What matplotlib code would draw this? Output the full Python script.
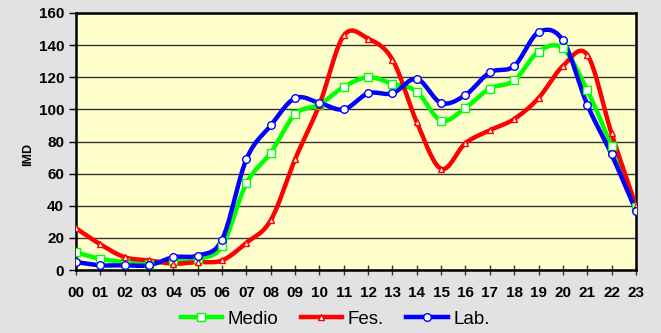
import numpy as np
import matplotlib
matplotlib.use("Agg")
import matplotlib.pyplot as plt
from matplotlib.lines import Line2D

hours = ["00", "01", "02", "03", "04", "05", "06", "07", "08", "09", "10", "11",
         "12", "13", "14", "15", "16", "17", "18", "19", "20", "21", "22", "23"]
medio = [11, 7, 5, 4, 6, 7, 15, 54, 73, 97, 103, 114, 120, 116, 111, 93, 101,
         113, 118, 136, 138, 112, 77, 39]
fes = [26, 16, 8, 6, 4, 5, 6, 17, 31, 69, 103, 146, 144, 131, 92, 63, 79, 87,
       94, 107, 127, 134, 85, 40]
lab = [5, 3, 3, 3, 8, 9, 19, 69, 90, 107, 104, 100, 110, 110, 119, 104, 109,
       123, 127, 148, 143, 103, 72, 37]
yticks = [0, 20, 40, 60, 80, 100, 120, 140, 160]

plt.rcParams["font.family"] = ["Liberation Sans", "DejaVu Sans"]


def smooth(x, y, n=20):
    """Catmull-Rom style smoothing through every point."""
    x = np.asarray(x, float)
    y = np.asarray(y, float)
    px = np.concatenate([[2 * x[0] - x[1]], x, [2 * x[-1] - x[-2]]])
    py = np.concatenate([[2 * y[0] - y[1]], y, [2 * y[-1] - y[-2]]])
    xs, ys = [], []
    t = np.linspace(0, 1, n, endpoint=False)
    for i in range(1, len(px) - 2):
        p0, p1, p2, p3 = (np.array([px[j], py[j]]) for j in range(i - 1, i + 3))
        c1 = p1 + (p2 - p0) / 6
        c2 = p2 - (p3 - p1) / 6
        b = ((1 - t) ** 3)[:, None] * p1 + (3 * (1 - t) ** 2 * t)[:, None] * c1 \
            + (3 * (1 - t) * t ** 2)[:, None] * c2 + (t ** 3)[:, None] * p2
        xs.extend(b[:, 0])
        ys.extend(b[:, 1])
    xs.append(x[-1])
    ys.append(y[-1])
    return np.array(xs), np.array(ys)


fig = plt.figure(figsize=(6.61, 3.33), dpi=100, facecolor="#E2E2E2")
ax = fig.add_axes([0.115, 0.189, 0.847, 0.772])
ax.set_facecolor("#FFFFCC")

x = np.arange(len(hours))
series = [
    ("Medio", medio, "#00FF00", "s", 5.5),
    ("Fes.", fes, "#FF0000", "^", 5),
    ("Lab.", lab, "#0000FF", "o", 5.5),
]
handles = []
for name, vals, col, mk, ms in series:
    sx, sy = smooth(x, vals)
    ax.plot(sx, sy, color=col, lw=3.2, solid_capstyle="round", zorder=3)
    ax.plot(x, vals, ls="none", marker=mk, ms=ms, mfc="white", mec=col,
            mew=1.0, zorder=4)
    handles.append(Line2D([0], [0], color=col, lw=3.2, marker=mk, ms=ms,
                          mfc="white", mec=col, mew=1.0))

ax.set_xlim(0, len(hours) - 1)
ax.set_ylim(0, 160)
ax.set_yticks(yticks)
ax.set_xticks(x)
ax.set_xticklabels(hours)
ax.yaxis.grid(True, color="#333333", lw=1.0)
ax.set_axisbelow(True)
for s in ax.spines.values():
    s.set_linewidth(1.8)
    s.set_color("black")
ax.tick_params(axis="x", direction="inout", length=7, width=1, color="#333333",
               labelsize=11, pad=8)
ax.tick_params(axis="y", direction="out", length=5, width=1, labelsize=11)
for lbl in ax.get_xticklabels() + ax.get_yticklabels():
    lbl.set_fontweight("bold")
ax.set_ylabel("IMD", fontsize=9, fontweight="bold")
ax.yaxis.set_label_coords(-0.075, 0.45)

fig.legend(handles, [s[0] for s in series], loc="lower center",
           bbox_to_anchor=(0.507, -0.035), ncol=3, frameon=False,
           fontsize=13.5, handlelength=2.2, columnspacing=1.2,
           handletextpad=0.3)

fig.savefig("out.png", dpi=100, facecolor=fig.get_facecolor())
